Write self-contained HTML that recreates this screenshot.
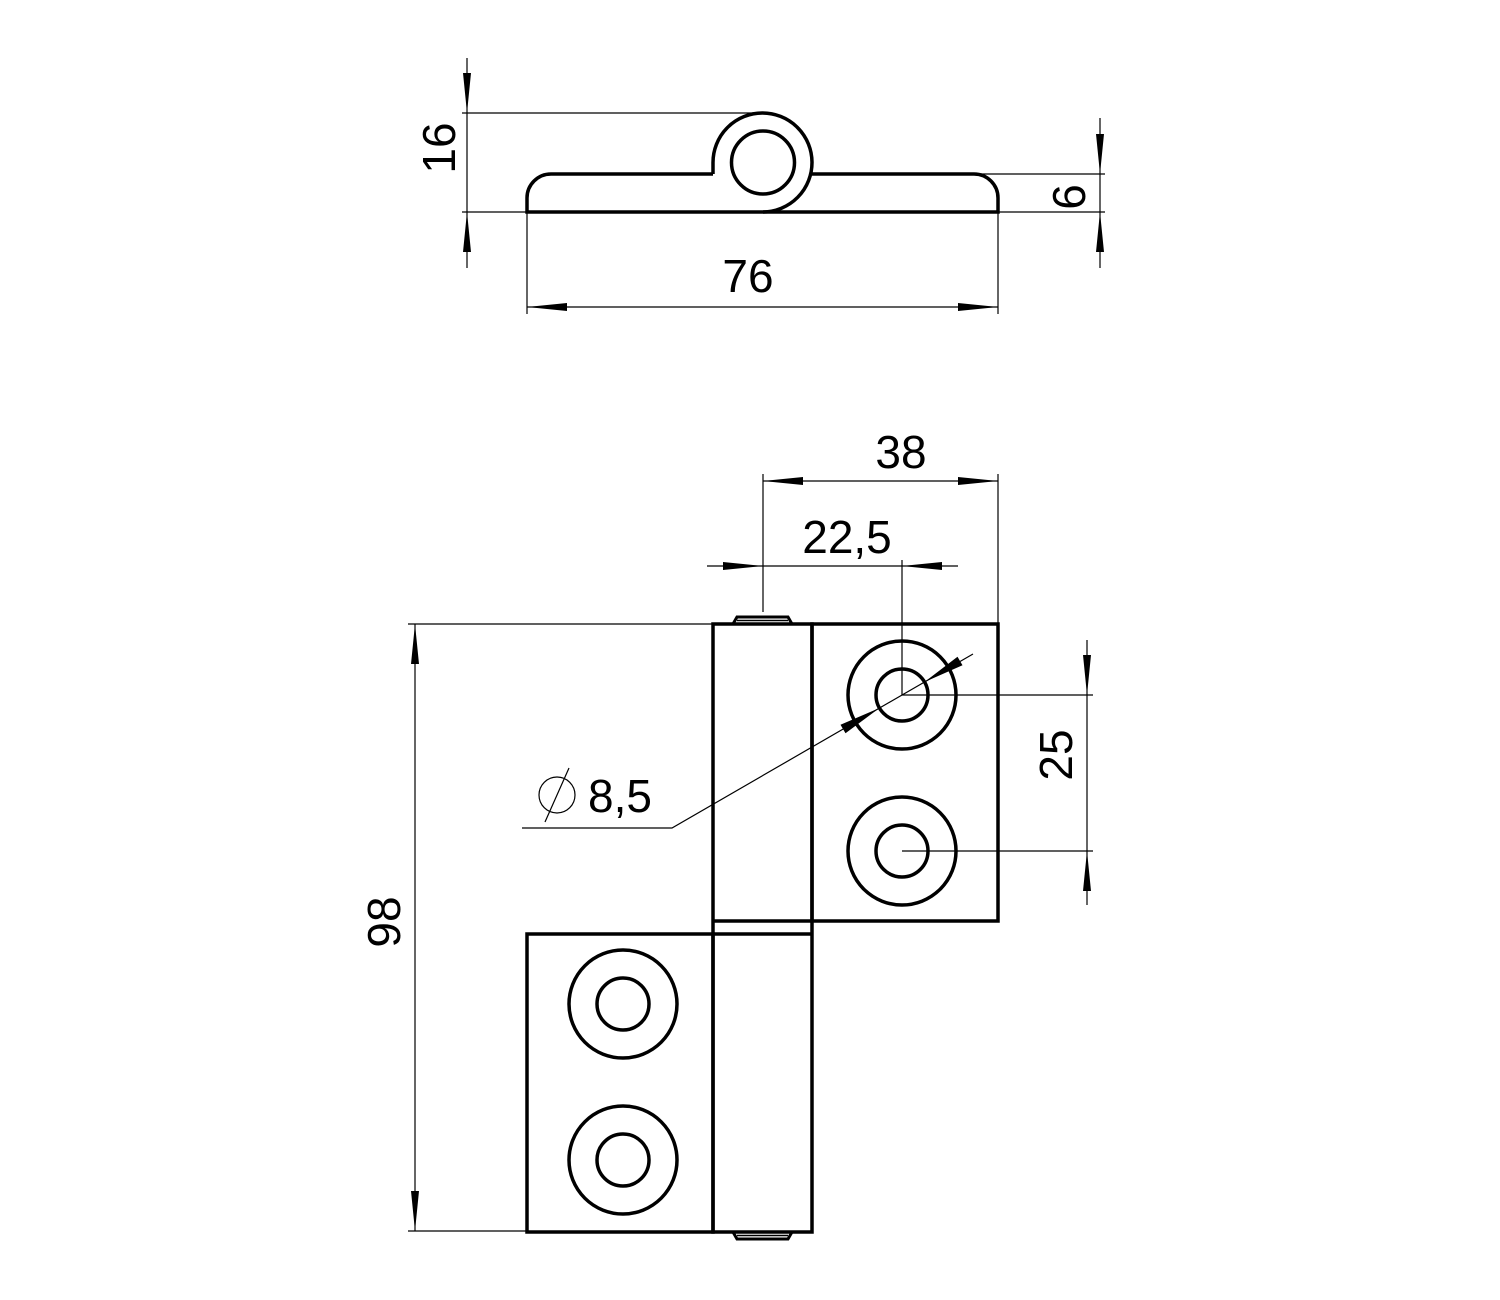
<!DOCTYPE html>
<html><head><style>html,body{margin:0;padding:0;background:#fff}svg{display:block}text{font-family:"Liberation Sans","DejaVu Sans",sans-serif;font-size:46px;fill:#000}</style></head>
<body>
<svg width="1500" height="1300" viewBox="0 0 1500 1300" xmlns="http://www.w3.org/2000/svg">
<defs>
<marker id="a" viewBox="0 0 40 10" refX="40" refY="5" markerWidth="40" markerHeight="10" markerUnits="userSpaceOnUse" orient="auto"><path d="M0,1 L40,5 L0,9 Z" fill="#000"/></marker>
</defs>
<g fill="none" stroke="#000" stroke-width="3.5">
<path d="M713,174 H551 A24,24 0 0 0 527,198 V212 H998 V198 A24,24 0 0 0 974,174 H812"/>
<path d="M713,174 V162.5 A49.5,49.5 0 1 1 763,212"/>
<circle cx="763" cy="162.5" r="31.5"/>
<rect x="713" y="624" width="99" height="608"/>
<rect x="812" y="624" width="186" height="297"/>
<line x1="713" y1="921" x2="812" y2="921"/>
<rect x="527" y="934" width="186" height="298"/>
<line x1="713" y1="934" x2="812" y2="934"/>
<path d="M733,624 L737,617 H788 L792,624" stroke-width="3"/>
<line x1="737" y1="620.5" x2="788" y2="620.5" stroke-width="1.5"/>
<path d="M733,1232 L737,1239 H788 L792,1232" stroke-width="3"/>
<line x1="737" y1="1235.5" x2="788" y2="1235.5" stroke-width="1.5"/>
<circle cx="902" cy="695" r="54"/><circle cx="902" cy="695" r="26"/>
<circle cx="902" cy="851" r="54"/><circle cx="902" cy="851" r="26"/>
<circle cx="623" cy="1004" r="54"/><circle cx="623" cy="1004" r="26"/>
<circle cx="623" cy="1160" r="54"/><circle cx="623" cy="1160" r="26"/>
</g>
<g fill="none" stroke="#000" stroke-width="1.2">
<line x1="462" y1="113" x2="760" y2="113"/><line x1="462" y1="212" x2="527" y2="212"/>
<line x1="467" y1="58" x2="467" y2="113" marker-end="url(#a)"/>
<line x1="467" y1="268" x2="467" y2="212" marker-end="url(#a)"/>
<line x1="467" y1="113" x2="467" y2="212"/>
<line x1="974" y1="174" x2="1105" y2="174"/><line x1="998" y1="212" x2="1105" y2="212"/>
<line x1="1100" y1="118" x2="1100" y2="174" marker-end="url(#a)"/>
<line x1="1100" y1="268" x2="1100" y2="212" marker-end="url(#a)"/>
<line x1="1100" y1="174" x2="1100" y2="212"/>
<line x1="527" y1="212" x2="527" y2="314"/><line x1="998" y1="212" x2="998" y2="314"/>
<line x1="762" y1="307" x2="527" y2="307" marker-end="url(#a)"/>
<line x1="762" y1="307" x2="998" y2="307" marker-end="url(#a)"/>
<line x1="763" y1="474" x2="763" y2="612"/><line x1="998" y1="474" x2="998" y2="624"/>
<line x1="880" y1="481" x2="763" y2="481" marker-end="url(#a)"/>
<line x1="880" y1="481" x2="998" y2="481" marker-end="url(#a)"/>
<line x1="902" y1="560" x2="902" y2="695"/>
<line x1="707" y1="566" x2="763" y2="566" marker-end="url(#a)"/>
<line x1="958" y1="566" x2="902" y2="566" marker-end="url(#a)"/>
<line x1="763" y1="566" x2="902" y2="566"/>
<line x1="408" y1="624" x2="713" y2="624"/><line x1="408" y1="1231" x2="527" y2="1231"/>
<line x1="415" y1="928" x2="415" y2="624" marker-end="url(#a)"/>
<line x1="415" y1="928" x2="415" y2="1231" marker-end="url(#a)"/>
<line x1="902" y1="695" x2="1093" y2="695"/><line x1="902" y1="851" x2="1093" y2="851"/>
<line x1="1087" y1="640" x2="1087" y2="695" marker-end="url(#a)"/>
<line x1="1087" y1="905" x2="1087" y2="851" marker-end="url(#a)"/>
<line x1="1087" y1="695" x2="1087" y2="851"/>
<polyline points="522,828 672,828 973,654"/>
<circle cx="557" cy="795" r="18"/><line x1="545" y1="822" x2="569" y2="768"/>
</g>
<path d="M840.5,724.7 L879.5,708 L845.5,733.3 Z M957.5,656.7 L924.5,682 L962.5,665.3 Z" fill="#000"/>
<text x="748" y="292" text-anchor="middle">76</text>
<text transform="translate(455,148) rotate(-90)" text-anchor="middle">16</text>
<text transform="translate(1085,197) rotate(-90)" text-anchor="middle">6</text>
<text x="901" y="468" text-anchor="middle">38</text>
<text x="847" y="553" text-anchor="middle">22,5</text>
<text transform="translate(400,922) rotate(-90)" text-anchor="middle">98</text>
<text transform="translate(1072,755) rotate(-90)" text-anchor="middle">25</text>
<text x="588" y="812">8,5</text>
</svg>
</body></html>
